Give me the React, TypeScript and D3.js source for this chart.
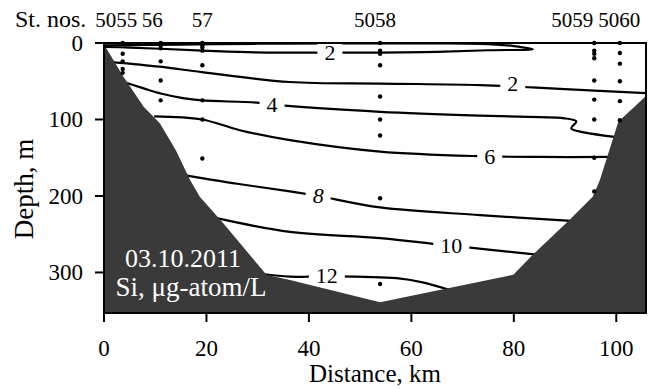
import React from 'react'
import * as d3 from 'd3'

// bottom profile: [distance km, depth m]
const bottom: [number, number][] = [
  [0, 2], [3.8, 44], [7.7, 83], [10.9, 105], [14, 140], [16.8, 179], [18.7, 201],
  [23.2, 235], [31.7, 303], [36.3, 310], [53.9, 339], [66.9, 321], [79.9, 303],
  [83.7, 277], [90.9, 231], [95.4, 201], [96.8, 179], [100.4, 103], [106, 68],
]

// sampling stations
const stationKm = [3.65, 11.06, 19.2, 53.9, 95.7, 100.7]
const stationDepths = [
  [0, 14, 24, 34, 39],
  [0, 3, 7, 24, 49, 75],
  [0, 3, 6, 10, 29, 75, 100, 151],
  [0, 10, 14, 29, 70, 100, 121, 203, 315],
  [0, 10, 14, 20, 49, 74, 100, 150, 194],
  [0, 13, 27, 50, 76, 101],
]
const stationNames = ['5055', '56', '57', '5058', '5059', '5060']
const stationLabelKm = [2.4, 9.4, 19.2, 52.9, 91.4, 100.6]

// Si isolines
const iso2a: [number, number][] = [
  [0, 5], [5, 6], [11, 7.5], [19, 10], [28, 12], [37, 12.5], [54, 12.5], [65, 11.5],
  [75, 9.5], [83.7, 8], [80, 4], [75, 1.5], [65, 0.5], [45, 0.5], [30, 1], [15, 2], [0, 3],
]
const iso2b: [number, number][] = [
  [1.5, 25], [10.9, 31], [19.1, 38], [36.3, 51], [53.9, 53], [73.4, 55], [81.8, 57.5], [89, 60], [106, 65.5],
]
const iso4: [number, number][] = [
  [1.5, 46], [7.6, 59], [11.1, 66], [15.4, 72], [19.1, 75], [29.8, 78], [35.3, 82], [53.9, 90],
  [73.4, 95], [85, 97], [89.6, 98.2], [92.2, 102.6], [91.2, 111.5], [92.9, 115.9], [99.3, 122.5], [101, 124],
]
const iso6: [number, number][] = [
  [9.8, 96], [19.1, 100], [26.5, 114], [36.3, 127], [53.9, 142], [73.4, 148], [85, 149], [99, 149],
]
const iso8: [number, number][] = [
  [16, 173], [26, 184], [36.3, 194], [41.8, 200], [53.9, 215], [73.4, 225], [92, 233],
]
const iso10: [number, number][] = [
  [22, 229], [36.3, 247], [53.9, 255], [67.8, 265], [85, 277],
]
const iso12: [number, number][] = [
  [31, 302], [36.3, 305.5], [43.5, 305], [57.1, 307.5], [62.2, 313], [67.5, 323],
]
const isolines = [iso2a, iso2b, iso4, iso6, iso8, iso10, iso12]

const isoLabels = ['2', '2', '4', '6', '8', '10', '12']
const isoLabelKm = [44.1, 79.8, 32.8, 75.3, 41.8, 67.8, 43.5]
const isoLabelDepth = [11.8, 53.6, 81, 148.6, 200, 265.4, 304.6]

const xTicks = [0, 20, 40, 60, 80, 100]
const yTicks = [0, 100, 200, 300]

const W = 661
const H = 389
const left = 104
const top = 43
const right = 646
const bot = 313
const serif = "'Liberation Serif', 'Times New Roman', Times, serif"
const tx = { fontFamily: serif }

export default function App() {
  const x = d3.scaleLinear().domain([0, 105.8]).range([left, right])
  const y = d3.scaleLinear().domain([0, 353]).range([top, bot])

  const line = d3.line<[number, number]>()
    .x(d => x(d[0]))
    .y(d => y(d[1]))
    .curve(d3.curveCatmullRom.alpha(0.5))

  const area = d3.area<[number, number]>()
    .x(d => x(d[0]))
    .y0(bot)
    .y1(d => y(d[1]))

  return (
    <svg width={W} height={H} style={{ position: 'absolute', left: 0, top: 0, background: '#fff', fontFamily: serif }}>
      <defs>
        <clipPath id="plot">
          <rect x={left} y={top} width={right - left} height={bot - top} />
        </clipPath>
      </defs>

      <g clipPath="url(#plot)">
        {isolines.map((iso, i) => (
          <path key={i} d={line(iso) || ''} fill="none" stroke="#000" strokeWidth={2.2} />
        ))}
        {isoLabels.map((t, i) => {
          const w = t.length * 11 + 14
          return (
            <g key={i}>
              <rect x={x(isoLabelKm[i]) - w / 2} y={y(isoLabelDepth[i]) - 9} width={w} height={18} fill="#fff" />
              <text x={x(isoLabelKm[i])} y={y(isoLabelDepth[i]) + 7.5} textAnchor="middle" fontSize={22}
                style={{ ...tx, fontStyle: t === '8' ? 'italic' : 'normal' }}>{t}</text>
            </g>
          )
        })}
        <path d={area(bottom) || ''} fill="#3a3a3a" />
      </g>

      {stationKm.map((k, i) => stationDepths[i].map((dp, j) => (
        <circle key={`${i}-${j}`} cx={x(k)} cy={y(dp)} r={2.2} fill="#000" />
      )))}

      <rect x={left} y={top} width={right - left} height={bot - top} fill="none" stroke="#000" strokeWidth={2} />

      {yTicks.map(t => (
        <g key={t}>
          <line x1={left - 9} x2={left} y1={y(t)} y2={y(t)} stroke="#000" strokeWidth={2} />
          <text x={83} y={y(t) + 8} textAnchor="end" fontSize={23} style={tx}>{t}</text>
        </g>
      ))}
      {xTicks.map(t => (
        <g key={t}>
          <line x1={x(t)} x2={x(t)} y1={bot} y2={bot + 9} stroke="#000" strokeWidth={2} />
          <text x={x(t)} y={356} textAnchor="middle" fontSize={23} style={tx}>{t}</text>
        </g>
      ))}

      <text x={375} y={382} textAnchor="middle" fontSize={25} style={tx}>Distance, km</text>
      <text transform={`translate(33,189) rotate(-90)`} textAnchor="middle" fontSize={27} style={tx}>Depth, m</text>

      <text x={15} y={27} fontSize={24} style={tx}>St. nos.</text>
      {stationNames.map((s, i) => (
        <text key={s} x={x(stationLabelKm[i])} y={27} textAnchor="middle" fontSize={21} style={tx}>{s}</text>
      ))}

      <text x={183} y={267} textAnchor="middle" fontSize={26} fill="#fff" style={tx}>03.10.2011</text>
      <text x={191} y={296} textAnchor="middle" fontSize={27} fill="#fff" style={tx}>Si, μg-atom/L</text>
    </svg>
  )
}
